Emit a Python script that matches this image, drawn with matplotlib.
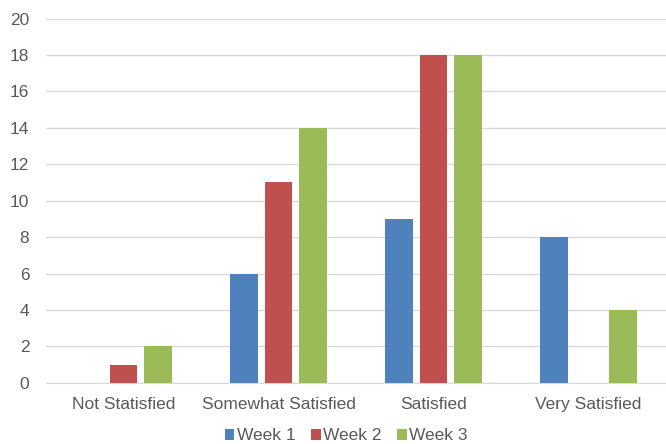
import matplotlib
matplotlib.use("Agg")
import matplotlib.pyplot as plt
import numpy as np

categories = ["Not Statisfied", "Somewhat Satisfied", "Satisfied", "Very Satisfied"]
series_names = ["Week 1", "Week 2", "Week 3"]
week1 = [0, 6, 9, 8]
week2 = [1, 11, 18, 0]
week3 = [2, 14, 18, 4]
colors = ["#4F81BD", "#C0504D", "#9BBB59"]
y_ticks = list(range(0, 21, 2))

plt.rcParams["font.family"] = ["Liberation Sans", "DejaVu Sans"]

fig = plt.figure(figsize=(6.66, 4.44), dpi=100)
ax = fig.add_axes([0.069, 0.138, 0.931, 0.82])

x = np.arange(len(categories))
width = 0.18
step = 0.222
for i, (vals, name, c) in enumerate(zip([week1, week2, week3], series_names, colors)):
    ax.bar(x + (i - 1) * step, vals, width, color=c, label=name, zorder=3)

ax.set_xlim(-0.5, len(categories) - 0.5)
ax.set_ylim(0, 20)
ax.set_yticks(y_ticks)
ax.set_xticks(x)
ax.set_xticklabels(categories)
ax.grid(axis="y", color="#D9D9D9", linewidth=1, zorder=0)
ax.tick_params(axis="both", length=0, colors="#595959", labelsize=12.5)
ax.tick_params(axis="x", pad=10)
ax.tick_params(axis="y", pad=12)
for s in ["top", "right", "left"]:
    ax.spines[s].set_visible(False)
ax.spines["bottom"].set_color("#D9D9D9")

leg = fig.legend(loc="lower center", bbox_to_anchor=(0.52, -0.034), ncol=3, frameon=False,
                 fontsize=12.5, handlelength=0.55, handleheight=0.55, handletextpad=0.15,
                 columnspacing=0.9, labelcolor="#595959")

fig.savefig("out.png", dpi=100)
